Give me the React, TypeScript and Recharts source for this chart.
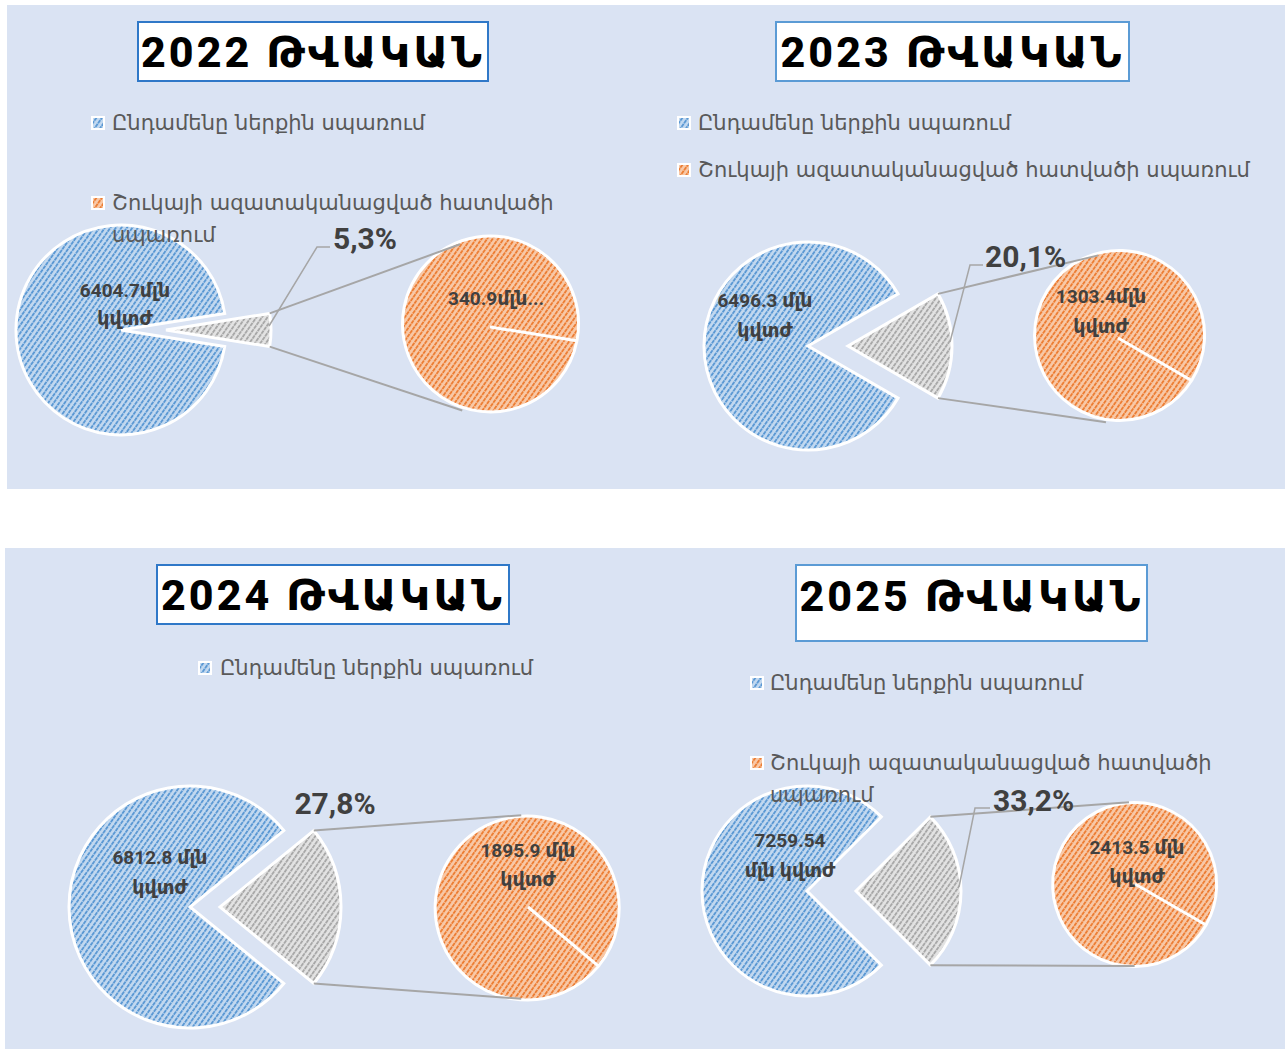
import { Cell, Pie, PieChart } from 'recharts'

const YEARS = ['2022', '2023', '2024', '2025']
const TITLE_WORD = 'ԹՎԱԿԱՆ'
const SERIES = ['Ընդամենը ներքին սպառում', 'Շուկայի ազատականացված հատվածի սպառում']
const TOTAL = [6404.7, 6496.3, 6812.8, 7259.54]
const LIBERAL = [340.9, 1303.4, 1895.9, 2413.5]
const SHARE = ['5,3%', '20,1%', '27,8%', '33,2%']
const TOTAL_TEXT = [
  ['6404.7մլն', 'կվտժ'],
  ['6496.3 մլն', 'կվտժ'],
  ['6812.8 մլն', 'կվտժ'],
  ['7259.54', 'մլն կվտժ'],
]
const LIBERAL_TEXT = [['340.9մլն...'], ['1303.4մլն', 'կվտժ'], ['1895.9 մլն', 'կվտժ'], ['2413.5 մլն', 'կվտժ']]
const LEGEND_ITEMS = [2, 2, 1, 2]

// panel layout (px, local to each panel)
const LAYOUT = [
  {
    left: 7, top: 5, w: 633, h: 484,
    title: { x: 130, y: 16, w: 352, h: 61, pad: 0, border: '#2f78c8' },
    legend: { mx: 91, tx: 105, ys: [118, 198], wrap: true },
    main: { cx: 114, cy: 325, r: 105, gap: 45 },
    sub: { cx: 483, cy: 322, r: 88, start: -9 },
    share: { x: 326, y: 233, anchor: 'start', leader: [310, 242, 323] },
    totalLbl: { dx: 4, dy: [-40, -12] },
    libLbl: { dx: 6, dy: [-29] },
  },
  {
    left: 640, top: 5, w: 645, h: 484,
    title: { x: 135, y: 16, w: 355, h: 61, pad: 0, border: '#5b9bd5' },
    legend: { mx: 44, tx: 58, ys: [118, 165], wrap: false },
    main: { cx: 168, cy: 341, r: 104, gap: 40 },
    sub: { cx: 478, cy: 333, r: 85, start: -30 },
    share: { x: 345, y: 251, anchor: 'start', leader: [330, 260, 343] },
    totalLbl: { dx: -43, dy: [-46, -16] },
    libLbl: { dx: -17, dy: [-42, -12] },
  },
  {
    left: 5, top: 548, w: 635, h: 501,
    title: { x: 151, y: 16, w: 354, h: 61, pad: 0, border: '#2f78c8' },
    legend: { mx: 200, tx: 215, ys: [120], wrap: false },
    main: { cx: 185, cy: 359, r: 121, gap: 30 },
    sub: { cx: 523, cy: 359, r: 92, start: -40 },
    share: { x: 330, y: 255, anchor: 'middle', leader: null },
    totalLbl: { dx: -30, dy: [-50, -20] },
    libLbl: { dx: 0, dy: [-57, -28] },
  },
  {
    left: 640, top: 548, w: 645, h: 501,
    title: { x: 155, y: 16, w: 353, h: 78, pad: 5, border: '#5b9bd5' },
    legend: { mx: 117, tx: 130, ys: [135, 215], wrap: true },
    main: { cx: 167, cy: 343, r: 105, gap: 49 },
    sub: { cx: 495, cy: 336, r: 82, start: -30 },
    share: { x: 353, y: 252, anchor: 'start', leader: [335, 260, 350] },
    totalLbl: { dx: -17, dy: [-51, -21] },
    libLbl: { dx: 2, dy: [-37, -8] },
  },
]

const PATTERNS = ['hatchBlue', 'hatchOrange']
const LABEL_FONT = "Roboto, 'DejaVu Sans', sans-serif"
const RAD = Math.PI / 180

function Hatches() {
  const defs = [
    { id: 'hatchBlue', bg: '#c3d9f0', fg: '#5595d2' },
    { id: 'hatchOrange', bg: '#f8c9a8', fg: '#ec7a2e' },
    { id: 'hatchGray', bg: '#e3e3e3', fg: '#a5a5a5' },
  ]
  return (
    <svg width={0} height={0} style={{ position: 'absolute' }}>
      <defs>
        {defs.map((d) => (
          <pattern key={d.id} id={d.id} width={4.5} height={4.5} patternUnits="userSpaceOnUse" patternTransform="rotate(35)">
            <rect width={4.5} height={4.5} fill={d.bg} />
            <line x1={1} y1={0} x2={1} y2={4.5} stroke={d.fg} strokeWidth={1.8} strokeDasharray="2 0.8" />
          </pattern>
        ))}
      </defs>
    </svg>
  )
}

function tangent(px: number, py: number, cx: number, cy: number, r: number, up: boolean) {
  const d = Math.hypot(px - cx, py - cy)
  const base = Math.atan2(py - cy, px - cx)
  const a = Math.acos(r / d)
  const t = up ? base + a : base - a
  return [cx + r * Math.cos(t), cy + r * Math.sin(t)]
}

function Panel({ i }: { i: number }) {
  const L = LAYOUT[i]
  const data = [
    { name: SERIES[0], value: TOTAL[i] },
    { name: SERIES[1], value: LIBERAL[i] },
  ]
  const half = (180 * LIBERAL[i]) / (TOTAL[i] + LIBERAL[i])

  const totalLabel = (p: any) => {
    if (p.index !== 0) return null
    return (
      <text textAnchor="middle" fontFamily={LABEL_FONT} fontWeight={700} fontSize={19} fill="#404040">
        {TOTAL_TEXT[i].map((t, k) => (
          <tspan key={k} x={L.main.cx + L.totalLbl.dx} y={L.main.cy + L.totalLbl.dy[k]} dy="0.35em">
            {t}
          </tspan>
        ))}
      </text>
    )
  }

  const grayLabel = (p: any) => {
    if (p.index !== 1) return null
    const r = p.outerRadius
    const top = [p.cx + r * Math.cos(p.endAngle * RAD), p.cy - r * Math.sin(p.endAngle * RAD)]
    const bot = [p.cx + r * Math.cos(p.startAngle * RAD), p.cy - r * Math.sin(p.startAngle * RAD)]
    const mid = [p.cx + r * Math.cos(p.midAngle * RAD), p.cy - r * Math.sin(p.midAngle * RAD)]
    const t1 = tangent(top[0], top[1], L.sub.cx, L.sub.cy, L.sub.r, true)
    const t2 = tangent(bot[0], bot[1], L.sub.cx, L.sub.cy, L.sub.r, false)
    const ld = L.share.leader
    return (
      <g>
        <line x1={top[0]} y1={top[1]} x2={t1[0]} y2={t1[1]} stroke="#a6a6a6" strokeWidth={2} />
        <line x1={bot[0]} y1={bot[1]} x2={t2[0]} y2={t2[1]} stroke="#a6a6a6" strokeWidth={2} />
        {ld && (
          <polyline
            points={`${mid[0] - 2},${mid[1] - 4} ${ld[0]},${ld[1]} ${ld[2]},${ld[1]}`}
            fill="none"
            stroke="#a6a6a6"
            strokeWidth={1.5}
          />
        )}
        <text
          x={L.share.x}
          y={L.share.y}
          dy="0.35em"
          textAnchor={L.share.anchor}
          fontFamily={LABEL_FONT}
          fontWeight={700}
          fontSize={30}
          fill="#404040"
        >
          {SHARE[i]}
        </text>
      </g>
    )
  }

  const liberalLabel = (p: any) => (
    <text textAnchor="middle" fontFamily={LABEL_FONT} fontWeight={700} fontSize={19} fill="#404040">
      {LIBERAL_TEXT[i].map((t, k) => (
        <tspan key={k} x={p.cx + L.libLbl.dx} y={p.cy + L.libLbl.dy[k]} dy="0.35em">
          {t}
        </tspan>
      ))}
    </text>
  )

  const legendLines = (s: string) => {
    if (!L.legend.wrap || s === SERIES[0]) return [s]
    const cut = s.lastIndexOf(' ')
    return [s.slice(0, cut), s.slice(cut + 1)]
  }

  return (
    <div style={{ position: 'absolute', left: L.left, top: L.top, width: L.w, height: L.h, background: '#dae3f3' }}>
      <PieChart width={L.w} height={L.h} margin={{ top: 0, right: 0, bottom: 0, left: 0 }}>
        <Pie
          data={data}
          dataKey="value"
          cx={L.main.cx}
          cy={L.main.cy}
          outerRadius={L.main.r}
          startAngle={half}
          endAngle={half + 360}
          label={totalLabel}
          labelLine={false}
          isAnimationActive={false}
        >
          <Cell fill="url(#hatchBlue)" stroke="#ffffff" strokeWidth={3} />
          <Cell fill="none" stroke="none" />
        </Pie>
        <Pie
          data={data}
          dataKey="value"
          cx={L.main.cx + L.main.gap}
          cy={L.main.cy}
          outerRadius={L.main.r}
          startAngle={half}
          endAngle={half + 360}
          label={grayLabel}
          labelLine={false}
          isAnimationActive={false}
        >
          <Cell fill="none" stroke="none" />
          <Cell fill="url(#hatchGray)" stroke="#ffffff" strokeWidth={3} />
        </Pie>
        <Pie
          data={[data[1]]}
          dataKey="value"
          cx={L.sub.cx}
          cy={L.sub.cy}
          outerRadius={L.sub.r}
          startAngle={L.sub.start}
          endAngle={L.sub.start + 360}
          label={liberalLabel}
          labelLine={false}
          isAnimationActive={false}
        >
          <Cell fill="url(#hatchOrange)" stroke="#ffffff" strokeWidth={3} />
        </Pie>
      </PieChart>

      <div
        style={{
          position: 'absolute',
          left: L.title.x,
          top: L.title.y,
          width: L.title.w,
          height: L.title.h,
          boxSizing: 'border-box',
          border: `2px solid ${L.title.border}`,
          background: '#ffffff',
          display: 'flex',
          justifyContent: 'center',
          alignItems: L.title.pad ? 'flex-start' : 'center',
          paddingTop: L.title.pad,
          fontFamily: "Roboto, 'DejaVu Sans', sans-serif",
          fontWeight: 800,
          fontSize: 43,
          letterSpacing: 3,
          color: '#000000',
          whiteSpace: 'nowrap',
        }}
      >
        {YEARS[i]} {TITLE_WORD}
      </div>

      {SERIES.slice(0, LEGEND_ITEMS[i]).map((s, k) => (
        <div
          key={k}
          style={{
            position: 'absolute',
            left: L.legend.mx - 7,
            top: L.legend.ys[k] - 16,
            display: 'flex',
            alignItems: 'flex-start',
          }}
        >
          <svg width={14} height={14} style={{ marginTop: 9, flex: 'none' }}>
            <rect x={0} y={0} width={14} height={14} fill="#ffffff" />
            <rect x={2} y={2} width={10} height={10} fill={`url(#${PATTERNS[k]})`} />
          </svg>
          <div style={{ marginLeft: L.legend.tx - L.legend.mx - 7 }}>
            {legendLines(s).map((line, j) => (
              <div
                key={j}
                style={{
                  fontFamily: "'DejaVu Sans', sans-serif",
                  fontSize: 21,
                  lineHeight: '32px',
                  color: '#595959',
                  whiteSpace: 'nowrap',
                  width: 'max-content',
                }}
              >
                {line}
              </div>
            ))}
          </div>
        </div>
      ))}
    </div>
  )
}

export default function App() {
  return (
    <div style={{ position: 'absolute', left: 0, top: 0, width: 1285, height: 1049, background: '#ffffff' }}>
      <Hatches />
      {YEARS.map((_, i) => (
        <Panel key={i} i={i} />
      ))}
    </div>
  )
}
